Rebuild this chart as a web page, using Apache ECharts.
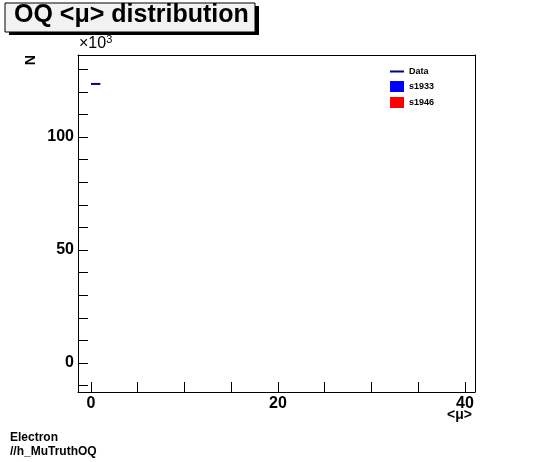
<!DOCTYPE html>
<html>
<head>
<meta charset="utf-8" />
<script src="https://cdn.jsdelivr.net/npm/echarts@6/dist/echarts.min.js"></script>
<style>
  *{margin:0;padding:0;}
  body{background:#fff;}
  #main{width:546px;height:462px;}
</style>
</head>
<body>
<div id="main"></div>
<script>
// data (y in units of 10^3)
var dataX = [0, 1];
var dataY = [123.5, 123.5];
var xLabels = [0, 20, 40];
var xTicks = [0, 5, 10, 15, 20, 25, 30, 35, 40];
var yLabels = [0, 50, 100];
var yTicks = [-10, 0, 10, 20, 30, 40, 50, 60, 70, 80, 90, 100, 110, 120, 130];

var font = 'Liberation Sans';
var chart = echarts.init(document.getElementById('main'));

var frame = {show: true, onZero: false, lineStyle: {color: '#000', width: 1}};

var option = {
  animation: false,
  textStyle: {fontFamily: font},
  grid: {left: 78, right: 71, top: 55, bottom: 70},
  xAxis: [{
    type: 'value', min: -1.39, max: 41.07,
    axisLine: frame,
    splitLine: {show: false},
    axisTick: {inside: true, length: 10, customValues: xTicks, lineStyle: {color: '#000'}},
    axisLabel: {customValues: xLabels, color: '#000', fontWeight: 'bold', fontSize: 16, margin: 4, fontFamily: font}
  }, {
    type: 'value', position: 'top', min: -1.39, max: 41.07,
    axisLine: frame, axisTick: {show: false}, axisLabel: {show: false}, splitLine: {show: false}
  }],
  yAxis: [{
    type: 'value', min: -12.8, max: 136.3,
    axisLine: frame,
    splitLine: {show: false},
    axisTick: {inside: true, length: 10, customValues: yTicks, lineStyle: {color: '#000'}},
    axisLabel: {customValues: yLabels, color: '#000', fontWeight: 'bold', fontSize: 16, margin: 4, fontFamily: font}
  }, {
    type: 'value', position: 'right', min: -12.8, max: 136.3,
    axisLine: frame, axisTick: {show: false}, axisLabel: {show: false}, splitLine: {show: false}
  }],
  legend: {
    orient: 'vertical', left: 385, top: 62, itemGap: 5,
    itemWidth: 14, itemHeight: 11,
    textStyle: {fontSize: 9, fontWeight: 'bold', color: '#000', fontFamily: font},
    data: [
      {name: 'Data', icon: 'path://M0,5L14,5L14,7L0,7Z', itemStyle: {color: '#00008b'}},
      {name: 's1933', icon: 'rect'},
      {name: 's1946', icon: 'rect'}
    ]
  },
  series: [
    {name: 'Data', type: 'line', symbol: 'none', color: '#00008b',
      lineStyle: {width: 2, color: '#00008b'},
      data: dataX.map(function (x, i) { return [x, dataY[i]]; })},
    {name: 's1933', type: 'bar', color: '#0000ff', data: []},
    {name: 's1946', type: 'bar', color: '#ff0000', data: []}
  ],
  graphic: [
    {type: 'rect', shape: {x: 9, y: 6, width: 250, height: 29}, style: {fill: '#000'}},
    {type: 'rect', shape: {x: 5, y: 3, width: 250, height: 29}, style: {fill: '#f2f2f2', stroke: '#000', lineWidth: 1}},
    {type: 'text', left: 14, top: 3, style: {text: 'OQ <μ> distribution', font: 'bold 25px ' + font, fill: '#000'}},
    {type: 'text', left: 79, top: 34, style: {
      text: '×10{s|3}', font: '16px ' + font, fill: '#000',
      rich: {s: {fontSize: 11, verticalAlign: 'top', padding: [0, 0, 8, 0]}}
    }},
    {type: 'text', x: 36, y: 55, rotation: -Math.PI / 2, style: {text: 'N', font: 'bold 14px ' + font, fill: '#000'}},
    {type: 'text', left: 447, top: 408, style: {text: '<μ>', font: 'bold 14px ' + font, fill: '#000'}},
    {type: 'text', left: 10, top: 432, style: {text: 'Electron', font: 'bold 12px ' + font, fill: '#000'}},
    {type: 'text', left: 10, top: 446, style: {text: '//h_MuTruthOQ', font: 'bold 12px ' + font, fill: '#000'}}
  ]
};
chart.setOption(option);
</script>
</body>
</html>
